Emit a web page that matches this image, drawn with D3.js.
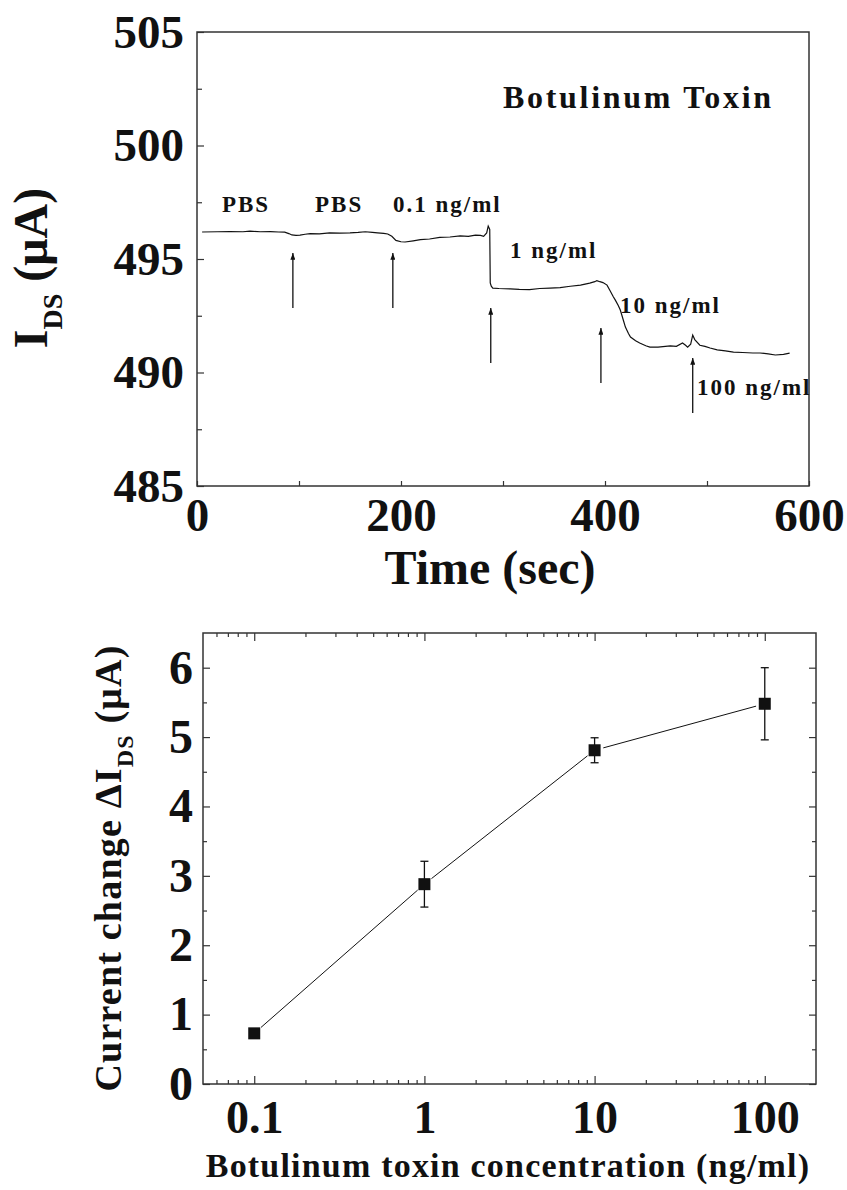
<!DOCTYPE html>
<meta charset="utf-8">
<style>
  body { margin: 0; background: #fff; }
  text { font-family: "Liberation Serif", "Times New Roman", serif; font-weight: bold; fill: #111; }
  .tick line { stroke: #333; stroke-width: 1.2; }
</style>
<script src="https://d3js.org/d3.v7.min.js"></script>
<body>
<script>
var W = 847, H = 1190;

// ---- top panel: I_DS vs time ----
var traceTime = [5, 20, 32, 45, 52, 62, 72, 80, 86, 90, 93, 97, 101, 106, 111, 120, 130, 140, 150, 158,
  165, 172, 177, 183, 187, 191, 195, 200, 204, 212, 219, 228, 238, 248, 258, 266, 273, 278, 281, 284,
  285.5, 287, 287.5, 288.5, 290, 296, 307, 316, 326, 336, 346, 356, 366, 376, 385, 390, 392, 395, 398,
  402, 405, 408, 410, 413, 415, 418, 420, 423, 425, 430, 434, 440, 444, 452, 464, 470, 476, 479, 481,
  484, 486, 488, 493, 498, 503, 510, 518, 526, 535, 545, 552, 560, 567, 575, 581];
var traceCurrent = [496.19, 496.2, 496.21, 496.2, 496.23, 496.2, 496.21, 496.19, 496.18, 496.12, 496.06,
  496.04, 496.05, 496.09, 496.12, 496.11, 496.15, 496.14, 496.15, 496.17, 496.2, 496.17, 496.15, 496.13,
  496.1, 496.0, 495.82, 495.76, 495.75, 495.8, 495.85, 495.88, 495.95, 495.97, 496.02, 496.0, 496.05,
  496.04, 496.0, 496.15, 496.45, 496.3, 493.95, 493.8, 493.72, 493.7, 493.68, 493.66, 493.65, 493.7,
  493.72, 493.74, 493.8, 493.85, 493.94, 494.0, 494.05, 494.0, 493.96, 493.85, 493.6, 493.35, 493.2,
  492.95, 492.75, 492.3, 492.0, 491.72, 491.56, 491.4, 491.3, 491.18, 491.12, 491.12, 491.17, 491.15,
  491.3, 491.2, 491.12, 491.25, 491.65, 491.45, 491.2, 491.15, 491.08, 491.0, 490.95, 490.9, 490.88,
  490.86, 490.86, 490.82, 490.77, 490.8, 490.85];
var arrowTime = [94, 192, 288, 396, 486];
var arrowTip = [495.26, 495.26, 492.84, 491.96, 490.64];
var arrowBase = [492.84, 492.84, 490.42, 489.54, 488.22];
var noteText = ["PBS", "PBS", "0.1 ng/ml", "1 ng/ml", "10 ng/ml", "100 ng/ml"];
var noteTime = [24.5, 115.7, 192.2, 306.9, 414.7, 490.2];
var noteCurrent = [497.07, 497.07, 497.07, 495.04, 492.62, 489.01];
var topYTicks = [485, 490, 495, 500, 505];
var topYMinor = [487.5, 492.5, 497.5, 502.5];
var topXTicks = [0, 200, 400, 600];
var topXMinor = [100, 300, 500];

// ---- bottom panel: current change vs concentration ----
var conc = [0.1, 1, 10, 100];
var deltaI = [0.73, 2.88, 4.81, 5.48];
var deltaErr = [0.05, 0.33, 0.18, 0.52];
var botYTicks = [0, 1, 2, 3, 4, 5, 6];
var botYMinor = [0.5, 1.5, 2.5, 3.5, 4.5, 5.5];
var botXTicks = [0.1, 1, 10, 100];

var svg = d3.select("body").append("svg").attr("width", W).attr("height", H);

svg.append("defs").append("marker")
  .attr("id", "head")
  .attr("markerUnits", "userSpaceOnUse")
  .attr("viewBox", "0 0 8 6")
  .attr("refX", 8).attr("refY", 3)
  .attr("markerWidth", 7).attr("markerHeight", 5)
  .attr("orient", "auto")
  .append("path").attr("d", "M0,0 L8,3 L0,6 Z").attr("fill", "#111");

// ===== top =====
var x1 = d3.scaleLinear().domain([0, 600]).range([197, 809]);
var y1 = d3.scaleLinear().domain([485, 505]).range([486, 32]);

var gy1 = svg.append("g").attr("transform", "translate(197,0)")
  .call(d3.axisLeft(y1).tickValues(topYTicks).tickSize(-7).tickPadding(13).tickFormat(d3.format("d")));
svg.append("g").attr("transform", "translate(197,0)")
  .call(d3.axisLeft(y1).tickValues(topYMinor).tickSize(-5).tickFormat(""));
var gx1 = svg.append("g").attr("transform", "translate(0,486)")
  .call(d3.axisBottom(x1).tickValues(topXTicks).tickSize(-5).tickPadding(12).tickFormat(d3.format("d")));
svg.append("g").attr("transform", "translate(0,486)")
  .call(d3.axisBottom(x1).tickValues(topXMinor).tickSize(-5).tickFormat(""));
svg.selectAll(".domain").remove();
gy1.selectAll("text").style("font-size", "47px");
gx1.selectAll("text").style("font-size", "47px");

svg.append("rect")
  .attr("x", x1(0)).attr("y", y1(505))
  .attr("width", x1(600) - x1(0)).attr("height", y1(485) - y1(505))
  .attr("fill", "none").attr("stroke", "#333").attr("stroke-width", 1.5);

var line1 = d3.line().x(function (d, i) { return x1(traceTime[i]); })
  .y(function (d) { return y1(d); });
svg.append("path").datum(traceCurrent)
  .attr("d", line1).attr("fill", "none").attr("stroke", "#111").attr("stroke-width", 1.2);

svg.selectAll(".arrow").data(arrowTime).enter().append("line")
  .attr("class", "arrow")
  .attr("x1", function (d) { return x1(d); })
  .attr("x2", function (d) { return x1(d); })
  .attr("y1", function (d, i) { return y1(arrowBase[i]); })
  .attr("y2", function (d, i) { return y1(arrowTip[i]); })
  .attr("stroke", "#111").attr("stroke-width", 1.3)
  .attr("marker-end", "url(#head)");

svg.selectAll(".note").data(noteText).enter().append("text")
  .attr("class", "note")
  .attr("x", function (d, i) { return x1(noteTime[i]); })
  .attr("y", function (d, i) { return y1(noteCurrent[i]); })
  .style("font-size", "23px").style("letter-spacing", "2px")
  .text(function (d) { return d; });

svg.append("text").attr("x", 503).attr("y", 108)
  .style("font-size", "32px").style("letter-spacing", "2.7px")
  .text("Botulinum Toxin");

svg.append("text").attr("x", 490).attr("y", 584).attr("text-anchor", "middle")
  .style("font-size", "48px").text("Time (sec)");

var yt1 = svg.append("text").attr("transform", "translate(47,268) rotate(-90)")
  .attr("text-anchor", "middle").style("font-size", "48px");
yt1.append("tspan").text("I");
yt1.append("tspan").attr("dy", 15).style("font-size", "28px").text("DS");
yt1.append("tspan").attr("dy", -15).text(" (\u03bcA)");

// ===== bottom =====
var x2 = d3.scaleLog().domain([0.05, 200]).range([203, 816]);
var y2 = d3.scaleLinear().domain([0, 6.5]).range([1084, 633]);
var xMinor = x2.ticks().filter(function (d) { return botXTicks.indexOf(d) < 0 && d > 0.05 && d < 200; });

var gy2 = svg.append("g").attr("transform", "translate(203,0)")
  .call(d3.axisLeft(y2).tickValues(botYTicks).tickSize(-7).tickPadding(10).tickFormat(d3.format("d")));
svg.append("g").attr("transform", "translate(203,0)")
  .call(d3.axisLeft(y2).tickValues(botYMinor).tickSize(-4).tickFormat(""));
svg.append("g").attr("transform", "translate(816,0)")
  .call(d3.axisRight(y2).tickValues(botYTicks).tickSize(-7).tickFormat(""));
svg.append("g").attr("transform", "translate(816,0)")
  .call(d3.axisRight(y2).tickValues(botYMinor).tickSize(-4).tickFormat(""));
var gx2 = svg.append("g").attr("transform", "translate(0,1084)")
  .call(d3.axisBottom(x2).tickValues(botXTicks).tickSize(-8).tickPadding(16).tickFormat(function (d) { return String(d); }));
svg.append("g").attr("transform", "translate(0,1084)")
  .call(d3.axisBottom(x2).tickValues(xMinor).tickSize(-4).tickFormat(""));
svg.append("g").attr("transform", "translate(0,633)")
  .call(d3.axisTop(x2).tickValues(botXTicks).tickSize(-8).tickFormat(""));
svg.append("g").attr("transform", "translate(0,633)")
  .call(d3.axisTop(x2).tickValues(xMinor).tickSize(-4).tickFormat(""));
svg.selectAll(".domain").remove();
gy2.selectAll("text").style("font-size", "48px");
gx2.selectAll("text").style("font-size", "46px");

svg.append("rect")
  .attr("x", x2(0.05)).attr("y", y2(6.5))
  .attr("width", x2(200) - x2(0.05)).attr("height", y2(0) - y2(6.5))
  .attr("fill", "none").attr("stroke", "#333").attr("stroke-width", 1.5);

// connecting segments, gapped around markers
var gap = 9;
for (var i = 0; i < conc.length - 1; i++) {
  var ax = x2(conc[i]), ay = y2(deltaI[i]), bx = x2(conc[i + 1]), by = y2(deltaI[i + 1]);
  var len = Math.hypot(bx - ax, by - ay), ux = (bx - ax) / len, uy = (by - ay) / len;
  svg.append("line")
    .attr("x1", ax + ux * gap).attr("y1", ay + uy * gap)
    .attr("x2", bx - ux * gap).attr("y2", by - uy * gap)
    .attr("stroke", "#111").attr("stroke-width", 1);
}

var pts = svg.selectAll(".pt").data(conc).enter().append("g").attr("class", "pt");
pts.append("line")
  .attr("x1", function (d) { return x2(d); }).attr("x2", function (d) { return x2(d); })
  .attr("y1", function (d, i) { return y2(deltaI[i] + deltaErr[i]); })
  .attr("y2", function (d, i) { return y2(deltaI[i] - deltaErr[i]); })
  .attr("stroke", "#111").attr("stroke-width", 1.3);
[1, -1].forEach(function (s) {
  pts.append("line")
    .attr("x1", function (d) { return x2(d) - 4; }).attr("x2", function (d) { return x2(d) + 4; })
    .attr("y1", function (d, i) { return y2(deltaI[i] + s * deltaErr[i]); })
    .attr("y2", function (d, i) { return y2(deltaI[i] + s * deltaErr[i]); })
    .attr("stroke", "#111").attr("stroke-width", 1.3);
});
pts.append("rect")
  .attr("x", function (d) { return x2(d) - 6; })
  .attr("y", function (d, i) { return y2(deltaI[i]) - 6; })
  .attr("width", 12).attr("height", 12).attr("fill", "#111");

svg.append("text").attr("x", 508).attr("y", 1177).attr("text-anchor", "middle")
  .style("font-size", "34px").style("letter-spacing", "1.2px")
  .text("Botulinum toxin concentration (ng/ml)");

var yt2 = svg.append("text").attr("transform", "translate(121,868) rotate(-90)")
  .attr("text-anchor", "middle").style("font-size", "38px").style("letter-spacing", "1.2px");
yt2.append("tspan").text("Current change \u0394I");
yt2.append("tspan").attr("dy", 12).style("font-size", "24px").text("DS");
yt2.append("tspan").attr("dy", -12).text(" (\u03bcA)");
</script>
</body>
